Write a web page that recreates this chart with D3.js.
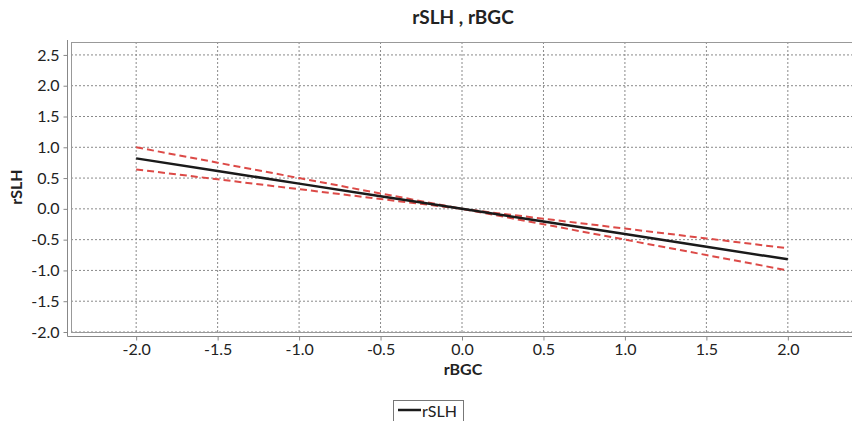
<!DOCTYPE html>
<html>
<head>
<meta charset="utf-8">
<script src="https://cdn.jsdelivr.net/npm/d3@7"></script>
<style>
  body { margin: 0; background: #fff; }
  text { font-family: Lato, "Open Sans", sans-serif; fill: #222; }
</style>
</head>
<body>
<div id="chart"></div>
<script>
// data
var xVals = [-2.0, -1.5, -1.0, -0.5, 0.0, 0.5, 1.0, 1.5, 2.0];
var fitVals = [0.82, 0.615, 0.41, 0.205, 0.0, -0.205, -0.41, -0.615, -0.82];
var upperVals = [1.0, 0.75, 0.5, 0.25, 0.0, -0.16, -0.32, -0.48, -0.64];
var lowerVals = [0.64, 0.48, 0.32, 0.16, 0.0, -0.25, -0.5, -0.75, -1.0];
var xTicks = [-2.0, -1.5, -1.0, -0.5, 0.0, 0.5, 1.0, 1.5, 2.0];
var yTicks = [-2.0, -1.5, -1.0, -0.5, 0.0, 0.5, 1.0, 1.5, 2.0, 2.5];

var W = 852, H = 421;
var plotLeft = 71, plotRight = 853, plotTop = 42, plotBottom = 332;

// plain hyphen for negatives, like the original
var fmt = function(d){ return d.toFixed(1); };

var svg = d3.select("#chart").append("svg")
  .attr("width", W).attr("height", H);

var x = d3.scaleLinear().domain([-2.4, 2.4]).range([plotLeft, plotRight]);
var y = d3.scaleLinear().domain([-2.0, 2.71]).range([plotBottom, plotTop]);

// gridlines
svg.append("g").selectAll("line").data(xTicks).enter().append("line")
  .attr("x1", d => x(d)).attr("x2", d => x(d))
  .attr("y1", plotTop).attr("y2", plotBottom)
  .attr("stroke", "#8a8a8a").attr("stroke-dasharray", "2,2");
svg.append("g").selectAll("line").data(yTicks).enter().append("line")
  .attr("x1", plotLeft).attr("x2", plotRight)
  .attr("y1", d => y(d)).attr("y2", d => y(d))
  .attr("stroke", "#8a8a8a").attr("stroke-dasharray", "2,2");

// plot frame
svg.append("rect")
  .attr("x", plotLeft + 0.5).attr("y", plotTop + 0.5)
  .attr("width", plotRight - plotLeft).attr("height", plotBottom - plotTop)
  .attr("fill", "none").attr("stroke", "#999");

// axes
var yAxis = svg.append("g")
  .attr("transform", "translate(67.5,0)")
  .call(d3.axisLeft(y).tickValues(yTicks).tickFormat(fmt).tickSize(4).tickPadding(4));
var xAxis = svg.append("g")
  .attr("transform", "translate(0,336.5)")
  .call(d3.axisBottom(x).tickValues(xTicks).tickFormat(fmt).tickSize(4).tickPadding(3));

[yAxis, xAxis].forEach(function(a){
  a.select(".domain").attr("stroke", "#888");
  a.selectAll(".tick line").attr("stroke", "#888");
  a.selectAll("text").style("font-size", "16px").attr("fill", "#1e1e1e")
    .style("font-family", "Lato, 'Open Sans', sans-serif");
});
yAxis.select(".domain").attr("d", "M0,40V336.5");
xAxis.select(".domain").attr("d", "M67.5,0H852");

// confidence lines
var line = d3.line().x(d => x(d[0])).y(d => y(d[1]));
[upperVals, lowerVals].forEach(function(vals){
  svg.append("path")
    .datum(xVals.map((v, i) => [v, vals[i]]))
    .attr("d", line)
    .attr("fill", "none")
    .attr("stroke", "#dc4a47")
    .attr("stroke-width", 2)
    .attr("stroke-dasharray", "7,4");
});

// fitted line
svg.append("path")
  .datum(xVals.map((v, i) => [v, fitVals[i]]))
  .attr("d", line)
  .attr("fill", "none")
  .attr("stroke", "#1a1a1a")
  .attr("stroke-width", 2.5);

// titles
svg.append("text").attr("x", 463).attr("y", 24)
  .attr("text-anchor", "middle").style("font-size", "19px").style("font-weight", "bold")
  .text("rSLH , rBGC");
svg.append("text").attr("x", 463).attr("y", 375)
  .attr("text-anchor", "middle").style("font-size", "16px").style("font-weight", "bold")
  .text("rBGC");
svg.append("text").attr("transform", "translate(22,187) rotate(-90)")
  .attr("text-anchor", "middle").style("font-size", "16px").style("font-weight", "bold")
  .text("rSLH");

// legend
var lg = svg.append("g");
lg.append("rect").attr("x", 393.5).attr("y", 400.5).attr("width", 70).attr("height", 30)
  .attr("fill", "#fff").attr("stroke", "#777");
lg.append("line").attr("x1", 398).attr("x2", 421).attr("y1", 410).attr("y2", 410)
  .attr("stroke", "#1a1a1a").attr("stroke-width", 2.5);
lg.append("text").attr("x", 422).attr("y", 417).style("font-size", "16px").text("rSLH");
</script>
</body>
</html>
